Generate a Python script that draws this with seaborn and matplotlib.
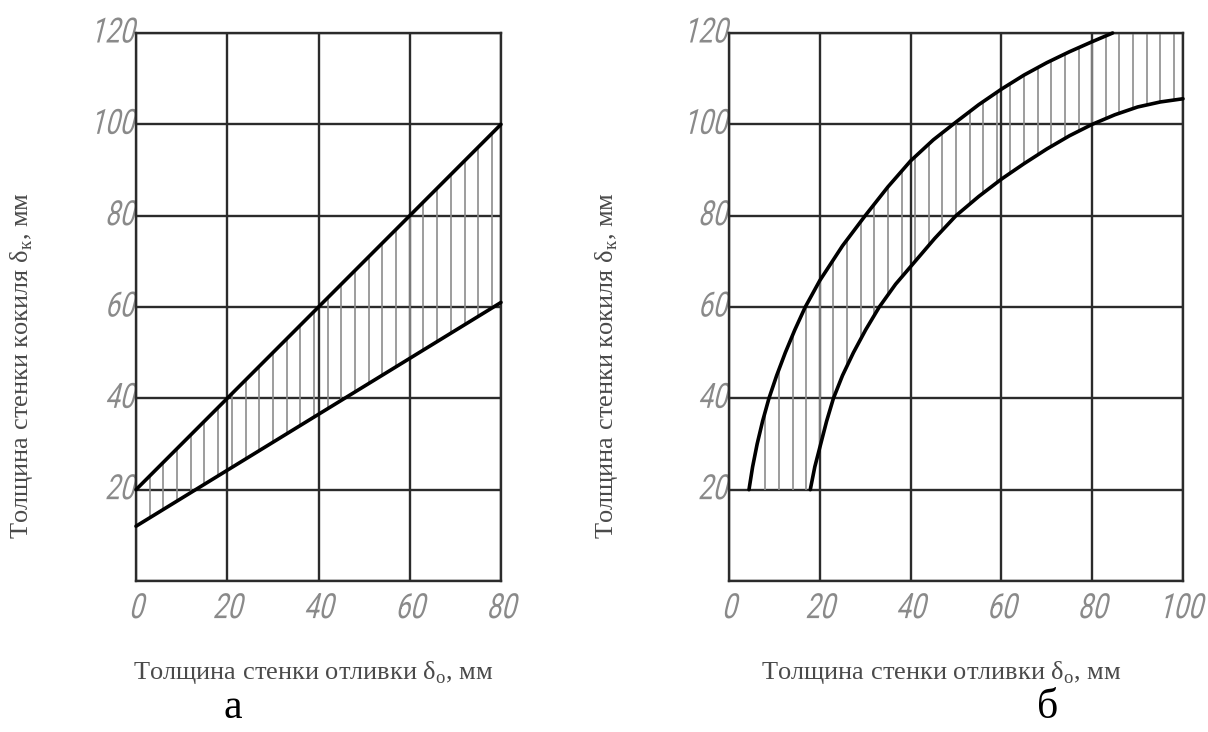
import numpy as np
import seaborn as sns
import matplotlib
matplotlib.use("Agg")
import matplotlib.pyplot as plt
from matplotlib import patheffects
from matplotlib.transforms import Affine2D

# panel "а": straight boundaries
a_x = [0, 80]
a_upper = [20, 100]
a_lower = [12, 61]

# panel "б": curved boundaries
b_upper_x = [4.4, 5.2, 6.2, 7.4, 8.8, 10.5, 12.4, 14.5, 16.8, 20, 25, 30, 35, 40,
             45, 50, 55, 60, 65, 70, 75, 80, 84.5]
b_upper_y = [20, 25, 30, 35, 40, 45, 50, 55, 60, 65.8, 73.4, 80, 86.3, 92,
             96.6, 100.5, 104.3, 107.7, 110.8, 113.5, 115.9, 118.1, 120]
b_lower_x = [17.9, 18.9, 20.2, 21.5, 23, 25, 27.4, 30.1, 33.1, 36.7, 41, 45.3, 50,
             55, 60, 65, 70, 75, 80, 85, 90, 95, 100]
b_lower_y = [20, 25, 30, 35, 40, 45, 50, 55, 60, 65, 70, 75, 80,
             84.2, 88, 91.4, 94.6, 97.5, 100, 102.1, 103.8, 104.9, 105.6]

a_xticks = [0, 20, 40, 60, 80]
b_xticks = [0, 20, 40, 60, 80, 100]
yticks = [0, 20, 40, 60, 80, 100, 120]
ytick_labels = ['', '20', '40', '60', '80', '100', '120']

xlabel = 'Толщина стенки отливки δ$_\\mathrm{о}$, мм'
ylabel = 'Толщина стенки кокиля δ$_\\mathrm{к}$, мм'


# narrow slanted drawing-style digits: squeeze and shear the glyph outlines
class Drafting(patheffects.AbstractPathEffect):
    def __init__(self, sx=0.75, slant=14, anchor='center', recenter=False):
        super().__init__()
        self.sx, self.slant, self.anchor, self.recenter = sx, slant, anchor, recenter

    def draw_path(self, renderer, gc, tpath, affine, rgbFace=None):
        ext = tpath.get_extents()
        ax0 = ext.x1 if self.anchor == 'right' else (ext.x0 + ext.x1) / 2
        shift = self.sx * ext.width / 2 if self.recenter else 0
        tr = (Affine2D().translate(-ax0, 0).scale(self.sx, 1)
              .skew_deg(self.slant, 0).translate(ax0 + shift, 0))
        renderer.draw_path(gc, tpath, tr + affine, rgbFace)


sns.set_style("white")
plt.rcParams['mathtext.fontset'] = 'custom'
plt.rcParams['mathtext.rm'] = 'Liberation Serif'

tick_font = dict(family=['Roboto', 'DejaVu Sans'], weight='normal', size=25, color='#8a8a8a')
label_font = dict(family=['Liberation Serif', 'DejaVu Serif'], size=19, color='#4a4a4a')

fig = plt.figure(figsize=(12.08, 7.32), dpi=100)
ax_a = fig.add_axes([136 / 1208, 1 - 581 / 732, 365 / 1208, 548 / 732])
ax_b = fig.add_axes([729 / 1208, 1 - 581 / 732, 454 / 1208, 548 / 732])


def frame(ax, xmax, xticks):
    ax.set_xlim(0, xmax)
    ax.set_ylim(0, 120)
    ax.set_xticks(xticks)
    ax.set_yticks(yticks)
    ax.grid(True, color='#2b2b2b', lw=1.7)
    ax.set_axisbelow(True)
    for s in ax.spines.values():
        s.set_color('#2b2b2b')
        s.set_linewidth(1.7)
    ax.tick_params(length=0)
    ax.tick_params(axis='x', pad=8)
    ax.tick_params(axis='y', pad=1)
    ax.set_xticklabels([str(t) for t in xticks], **tick_font)
    ax.set_yticklabels(ytick_labels, **tick_font)
    for t in ax.get_xticklabels():
        t.set_path_effects([Drafting(anchor='center')])
    for t in ax.get_yticklabels():
        t.set_verticalalignment('center')
        t.set_path_effects([Drafting(anchor='right')])
    ax.set_xlabel(xlabel, va='center', **label_font)
    ax.set_ylabel(ylabel, va='center', **label_font)


frame(ax_a, 80, a_xticks)
frame(ax_b, 100, b_xticks)

# the last label sits at the figure edge: lay it out right-aligned, draw it centred
last = ax_b.get_xticklabels()[-1]
last.set_horizontalalignment('right')
last.set_path_effects([Drafting(anchor='right', recenter=True)])

# hatching between the boundaries
hx = np.arange(3, 80, 3)
ax_a.vlines(hx, np.interp(hx, a_x, a_lower), np.interp(hx, a_x, a_upper),
            color='#8c8c8c', lw=1.2, zorder=2)
hx = np.arange(8, 100, 3)
ax_b.vlines(hx, np.interp(hx, b_lower_x, b_lower_y), np.interp(hx, b_upper_x, b_upper_y),
            color='#8c8c8c', lw=1.2, zorder=2)

line_kw = dict(color='black', lw=2.6, zorder=4)
sns.lineplot(x=a_x, y=a_upper, ax=ax_a, **line_kw)
sns.lineplot(x=a_x, y=a_lower, ax=ax_a, **line_kw)
sns.lineplot(x=b_upper_x, y=b_upper_y, ax=ax_b, sort=False, **line_kw)
sns.lineplot(x=b_lower_x, y=b_lower_y, ax=ax_b, sort=False, **line_kw)
for ln in ax_a.lines + ax_b.lines:
    ln.set_clip_on(False)
    ln.set_solid_capstyle('round')
    ln.set_solid_joinstyle('round')

ax_a.xaxis.set_label_coords((313 - 136) / 365, (581 - 672) / 548)
ax_b.xaxis.set_label_coords((941 - 729) / 454, (581 - 672) / 548)
ax_a.yaxis.set_label_coords((22 - 136) / 365, (581 - 365) / 548)
ax_b.yaxis.set_label_coords((607 - 729) / 454, (581 - 365) / 548)

fig.text(233 / 1208, 1 - 708 / 732, 'а', ha='center', va='center',
         family=['Liberation Serif', 'DejaVu Serif'], size=30, color='black')
fig.text(1048 / 1208, 1 - 708 / 732, 'б', ha='center', va='center',
         family=['Liberation Serif', 'DejaVu Serif'], size=30, color='black')

fig.savefig('out.png', dpi=100)
